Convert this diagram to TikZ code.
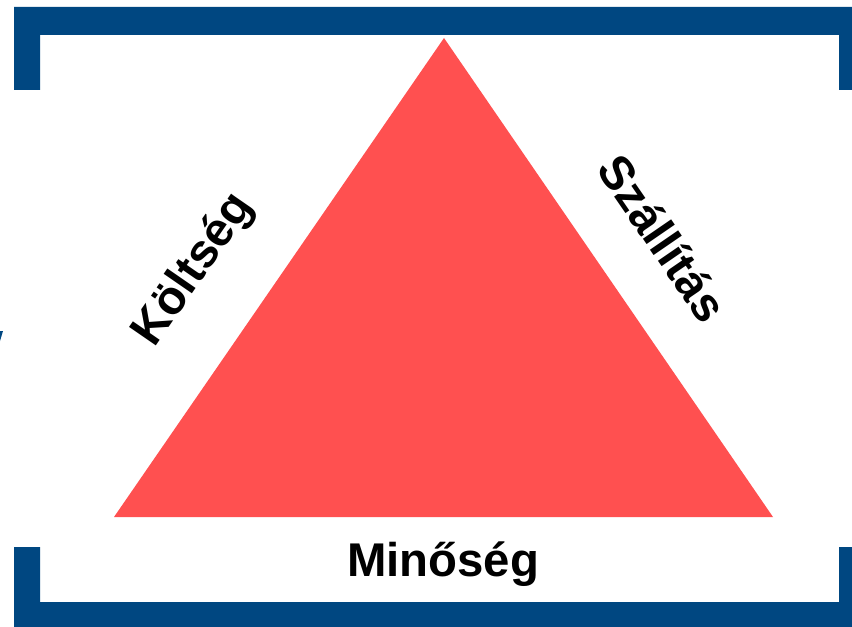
\documentclass[tikz,border=0pt]{standalone}
\usepackage{fontspec}
\setmainfont{Liberation Sans}
\definecolor{frameblue}{RGB}{0,71,129}
\definecolor{trired}{RGB}{255,80,80}
\begin{document}
\begin{tikzpicture}[x=0.75pt,y=-0.75pt,
  framepart/.style={fill=frameblue,draw=none},
  label/.style={font=\fontsize{35.5}{40}\selectfont\bfseries,text=black,inner sep=0pt}]
\useasboundingbox (0,0) rectangle (852,627);
% frame brackets
\fill[framepart] (14,7) -- (852,7) -- (852,90) -- (839,90) -- (839,35) -- (40,35) -- (40,90) -- (14,90) -- cycle;
\fill[framepart] (14,547) -- (40,547) -- (40,602) -- (839,602) -- (839,547) -- (852,547) -- (852,627) -- (14,627) -- cycle;
\fill[framepart] (0,331) -- (3,331) -- (0,341) -- cycle;
% triangle
\coordinate (apex) at (444,38);
\coordinate (bl) at (114,517);
\coordinate (br) at (773,517);
\fill[trired] (apex) -- (br) -- (bl) -- cycle;
% labels
\node[label] (minoseg) at (443,564) {Minőség};
\node[label,rotate=55.4] (koltseg) at (194,270) {Költség};
\node[label,rotate=-55.5] (szallitas) at (663,238) {Szállítás};
\end{tikzpicture}
\end{document}
